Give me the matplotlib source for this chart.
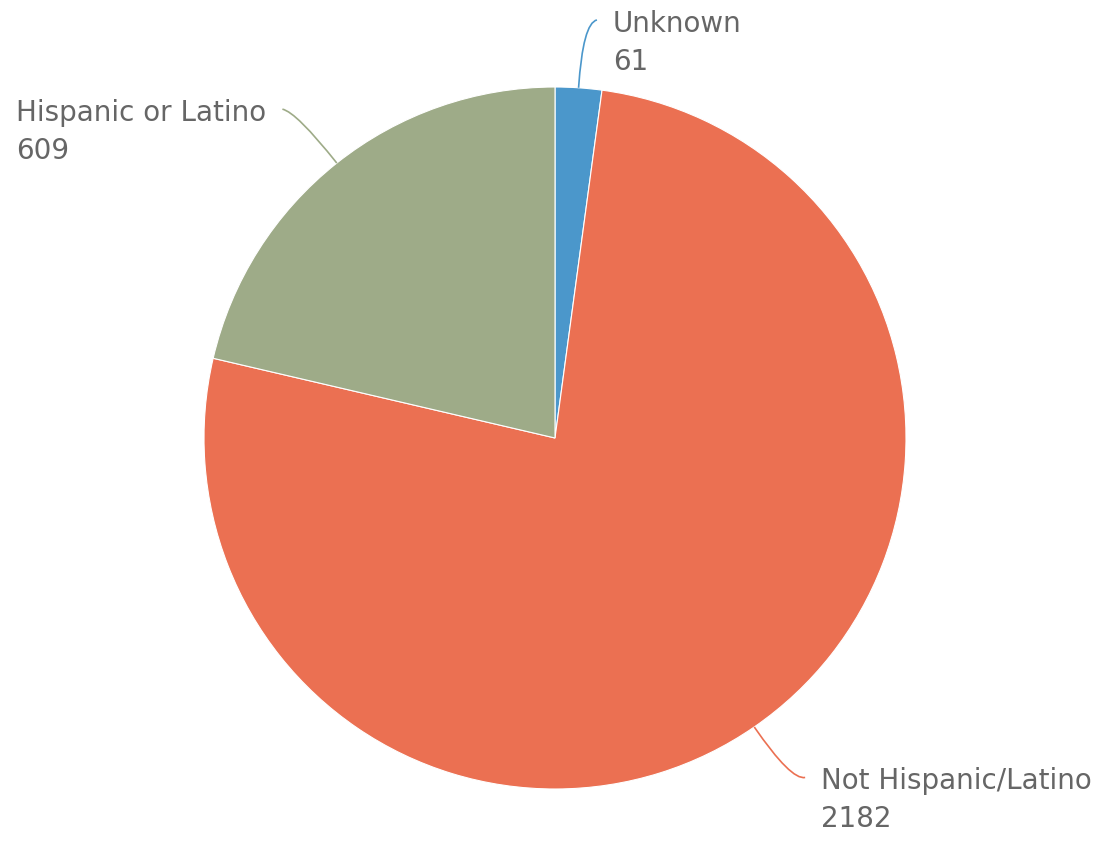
import numpy as np
import matplotlib.pyplot as plt
from matplotlib.path import Path
from matplotlib.patches import PathPatch

labels = ['Unknown', 'Not Hispanic/Latino', 'Hispanic or Latino']
values = [61, 2182, 609]
colors = ['#4b97cb', '#eb7052', '#9eab88']

W, H = 1105, 846
fig = plt.figure(figsize=(W / 100, H / 100), dpi=100)
ax = fig.add_axes([0, 0, 1, 1])

cx, cy, r = 555, H - 438, 351
wedges, _ = ax.pie(values, colors=colors, startangle=90, counterclock=False,
                   center=(cx, cy), radius=r, frame=True,
                   wedgeprops=dict(edgecolor='white', linewidth=0.8))
ax.set_xlim(0, W)
ax.set_ylim(0, H)
ax.set_aspect('equal')
ax.axis('off')

for w, lab, val, col in zip(wedges, labels, values, colors):
    ang = np.deg2rad((w.theta1 + w.theta2) / 2)
    dx, dy = np.cos(ang), np.sin(ang)
    p0 = (cx + r * dx, cy + r * dy)
    p1 = (cx + (r + 65) * dx, cy + (r + 65) * dy)
    side = 1 if dx >= 0 else -1
    p2 = (p1[0] + side * 14, p1[1] + 3)
    path = Path([p0, p1, p2], [Path.MOVETO, Path.CURVE3, Path.CURVE3])
    ax.add_patch(PathPatch(path, fill=False, edgecolor=col, linewidth=1.2))
    ax.text(p2[0] + side * 16, p2[1] + 10, f'{lab}\n{val}',
            ha='left' if side > 0 else 'right', va='top',
            multialignment='left',
            fontsize=20, color='#666666', linespacing=1.45,
            family='DejaVu Sans')

fig.savefig('out.png', dpi=100, facecolor='white')
